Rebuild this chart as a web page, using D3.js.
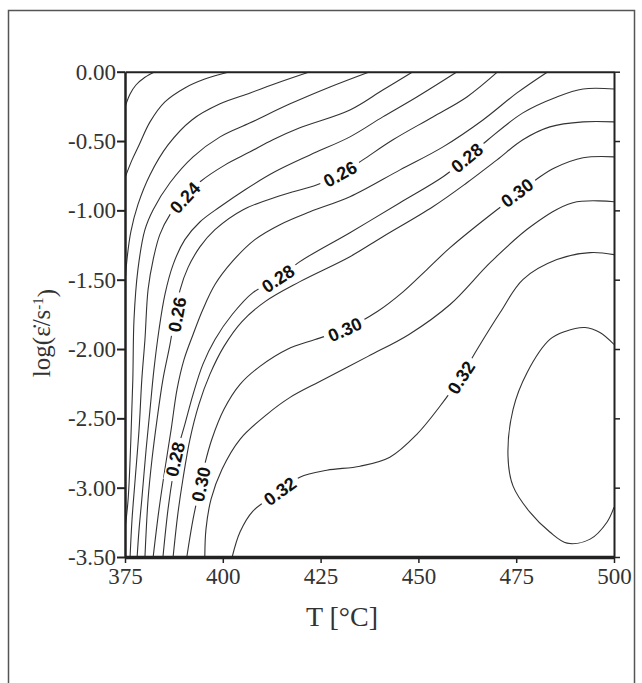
<!DOCTYPE html>
<html lang="en">
<head>
<meta charset="UTF-8">
<title>Efficiency map</title>
<script src="https://d3js.org/d3.v7.min.js"></script>
<style>
  body { margin: 0; background: #fff; }
  .axis path, .axis line { fill: none; stroke: #222; }
  .axis text { font-family: "Liberation Serif", "DejaVu Serif", serif !important; font-size: 23px !important; fill: #333; }
  .contour { fill: none; stroke: #333; stroke-width: 1.1; }
  .clabel { font-family: "Liberation Sans Narrow", "Liberation Sans", Arial, sans-serif; font-size: 18px; font-weight: bold; fill: #111; }
  .title { font-family: "Liberation Serif", "DejaVu Serif", serif; fill: #333; }
</style>
</head>
<body>
<svg id="chart" width="642" height="683"></svg>
<script>
// axis ticks
const xTicks = [375, 400, 425, 450, 475, 500];
const yTicks = [0, -0.5, -1, -1.5, -2, -2.5, -3, -3.5];

// contour lines: [T in degC, log strain rate]
const c20 = [[382.7,0],[380.1,-0.04],[377.8,-0.096],[376.3,-0.16],[375,-0.254]];
const c21 = [[401.8,0],[395.4,-0.053],[390.3,-0.117],[385.2,-0.218],[381.4,-0.362],[378.6,-0.528],[376.8,-0.636],[375,-0.765]];
const c22 = [[422.3,0],[414.6,-0.074],[407.0,-0.153],[399.3,-0.232],[392.1,-0.348],[386.0,-0.528],[381.4,-0.743],[378.3,-0.959],[376.5,-1.154],[375.5,-1.355],[375,-1.535]];
const c23 = [[437.6,0],[427.4,-0.11],[417.2,-0.232],[407.0,-0.369],[399.3,-0.47],[392.4,-0.614],[386.5,-0.801],[382.2,-0.995],[380.1,-1.139],[378.3,-1.427],[377.3,-1.787],[377.0,-2.219],[376.5,-2.651],[375.8,-3.083],[375,-3.3]];
const c24 = [[448.6,0],[440.9,-0.132],[432.5,-0.276],[419.7,-0.405],[412.8,-0.491],[407.0,-0.578],[400.6,-0.672],[394.2,-0.794],[390.3,-0.902],[386.5,-1.031],[383.9,-1.175],[382.2,-1.355],[380.9,-1.571],[380.1,-1.931],[379.3,-2.219],[378.6,-2.579],[377.6,-2.939],[376.8,-3.227],[376.3,-3.5]];
const c25 = [[459.9,0],[449.6,-0.182],[440.9,-0.326],[432.5,-0.47],[422.3,-0.6],[413.3,-0.722],[405.7,-0.851],[399.3,-0.974],[394.2,-1.082],[390.3,-1.211],[387.3,-1.391],[385.2,-1.607],[383.7,-1.859],[382.4,-2.147],[381.4,-2.435],[380.4,-2.723],[379.3,-3.083],[378.6,-3.299],[378.1,-3.5]];
const c26 = [[470.3,0],[462.4,-0.182],[453.7,-0.326],[443.5,-0.491],[435.8,-0.636],[430.0,-0.743],[424.1,-0.815],[414.6,-0.895],[405.2,-0.995],[398.0,-1.139],[394.2,-1.262],[391.1,-1.413],[389.1,-1.571],[387.8,-1.751],[386.5,-1.967],[384.7,-2.219],[383.2,-2.507],[381.9,-2.795],[380.9,-3.083],[380.1,-3.5]];
const c27 = [[483.1,0],[475.2,-0.153],[466.5,-0.348],[456.3,-0.542],[445.3,-0.708],[432.5,-0.902],[422.3,-1.01],[414.6,-1.103],[408.2,-1.211],[402.4,-1.37],[398.0,-1.535],[394.9,-1.715],[392.4,-1.895],[390.1,-2.075],[388.3,-2.291],[386.8,-2.579],[385.2,-2.867],[383.7,-3.155],[382.2,-3.5]];
const c28 = [[500,-0.125],[492.1,-0.125],[485.4,-0.182],[476.7,-0.297],[467.8,-0.491],[462.4,-0.621],[456.3,-0.758],[445.3,-0.945],[432.5,-1.161],[419.7,-1.37],[413.9,-1.499],[407.7,-1.593],[402.4,-1.751],[398.0,-1.931],[394.9,-2.111],[392.4,-2.327],[390.3,-2.543],[388.5,-2.723],[387.3,-2.903],[386.0,-3.155],[384.7,-3.5]];
const c29 = [[500,-0.362],[492.1,-0.362],[483.6,-0.398],[476.7,-0.491],[470.1,-0.636],[462.4,-0.801],[453.7,-0.974],[440.9,-1.19],[432.5,-1.334],[419.7,-1.514],[410.8,-1.658],[404.9,-1.802],[400.3,-1.981],[396.7,-2.183],[393.9,-2.399],[391.6,-2.651],[389.8,-2.939],[388.5,-3.191],[387.3,-3.5]];
const c30 = [[500,-0.614],[492.1,-0.621],[484.9,-0.693],[481.1,-0.758],[475.2,-0.888],[469.1,-1.017],[458.1,-1.269],[451.7,-1.44],[446.0,-1.59],[439.5,-1.73],[431.2,-1.859],[423.6,-1.931],[416.4,-2.003],[409.5,-2.125],[404.4,-2.255],[400.3,-2.435],[397.2,-2.651],[395.4,-2.831],[394.2,-2.989],[392.4,-3.227],[390.8,-3.5]];
const c31 = [[500,-0.938],[489.5,-0.945],[479.0,-1.111],[468.6,-1.37],[458.1,-1.679],[447.6,-1.895],[437.1,-2.053],[424.8,-2.234],[417.2,-2.349],[411.3,-2.471],[404.4,-2.651],[399.8,-2.867],[397.0,-3.083],[395.7,-3.299],[395.4,-3.5]];
const c32 = [[500,-1.319],[493.9,-1.305],[485.4,-1.355],[476.7,-1.499],[470.9,-1.737],[465.0,-2.003],[460.6,-2.212],[455.5,-2.413],[449.6,-2.615],[442.7,-2.78],[435.1,-2.845],[426.6,-2.874],[419.7,-2.924],[414.1,-3.039],[407.7,-3.169],[404.4,-3.32],[402.4,-3.5]];
const c33 = [[500,-1.967],[496.4,-1.881],[492.6,-1.845],[487.5,-1.873],[483.6,-1.931],[477.8,-2.169],[474.2,-2.435],[472.9,-2.773],[474.2,-2.989],[478.5,-3.177],[483.6,-3.32],[488.0,-3.4],[493.9,-3.371],[498.2,-3.249],[500,-3.141]];

const levels = [0.20, 0.21, 0.22, 0.23, 0.24, 0.25, 0.26, 0.27, 0.28, 0.29, 0.30, 0.31, 0.32, 0.33];
const lines = [c20, c21, c22, c23, c24, c25, c26, c27, c28, c29, c30, c31, c32, c33];

// inline contour labels
const labelLevel = [0.24, 0.26, 0.26, 0.28, 0.28, 0.28, 0.30, 0.30, 0.30, 0.32, 0.32];
const labelT     = [390.3, 430.0, 388.3, 462.4, 414.1, 387.8, 475.2, 431.2, 394.4, 460.9, 414.6];
const labelRate  = [-0.909, -0.737, -1.751, -0.621, -1.492, -2.795, -0.873, -1.859, -2.975, -2.205, -3.025];

const serif = '"Liberation Serif", "DejaVu Serif", serif';

const svg = d3.select("#chart");

const x = d3.scaleLinear().domain([375, 500]).range([125, 614]);
const y = d3.scaleLinear().domain([0, -3.5]).range([71.7, 557]);

// outer frame of the figure
svg.append("rect")
  .attr("x", 8.5).attr("y", 10.5)
  .attr("width", 626).attr("height", 700)
  .attr("fill", "none").attr("stroke", "#555").attr("stroke-width", 1.5);

svg.append("clipPath").attr("id", "plot-clip")
  .append("rect")
  .attr("x", x(375)).attr("y", y(0))
  .attr("width", x(500) - x(375)).attr("height", y(-3.5) - y(0));

const line = d3.line()
  .x(d => x(d[0]))
  .y(d => y(d[1]))
  .curve(d3.curveCatmullRom.alpha(0.5));

svg.append("g")
  .attr("clip-path", "url(#plot-clip)")
  .selectAll("path")
  .data(lines)
  .enter().append("path")
  .attr("class", "contour")
  .attr("d", line);

// labels: angle follows the local direction of the line
function labelAngle(level, t, r) {
  const pts = lines[levels.findIndex(l => Math.abs(l - level) < 1e-6)];
  const px = x(t), py = y(r);
  let best = 0, bestD = Infinity;
  pts.forEach((p, i) => {
    const d = (x(p[0]) - px) ** 2 + (y(p[1]) - py) ** 2;
    if (d < bestD) { bestD = d; best = i; }
  });
  const a = pts[Math.max(0, best - 1)], b = pts[Math.min(pts.length - 1, best + 1)];
  let dx = x(b[0]) - x(a[0]), dy = y(b[1]) - y(a[1]);
  if (dx < 0) { dx = -dx; dy = -dy; }
  return Math.atan2(dy, dx) * 180 / Math.PI;
}

const labelG = svg.append("g");
labelLevel.forEach((lv, i) => {
  const g = labelG.append("g")
    .attr("transform", "translate(" + x(labelT[i]) + "," + y(labelRate[i]) + ") rotate(" + labelAngle(lv, labelT[i], labelRate[i]) + ")");
  const bg = g.append("rect").attr("fill", "#fff");
  const txt = g.append("text")
    .attr("class", "clabel")
    .attr("text-anchor", "middle")
    .attr("dy", "0.36em")
    .text(lv.toFixed(2));
  const w = txt.node().getComputedTextLength() + 9;
  bg.attr("x", -w / 2).attr("y", -7).attr("width", w).attr("height", 14);
});

function styleTicks(g) {
  g.attr("font-family", serif).attr("font-size", 23);
  g.selectAll(".tick text").attr("fill", "#333");
}

// axes
const axLeft = svg.append("g")
  .attr("class", "axis")
  .attr("transform", "translate(" + x(375) + ",0)")
  .call(d3.axisLeft(y).tickValues(yTicks).tickFormat(d => d.toFixed(2)).tickSize(8).tickPadding(1).tickSizeOuter(0));
axLeft.call(styleTicks);
axLeft.select(".domain").attr("stroke-width", 2.5);
axLeft.selectAll(".tick line").attr("stroke-width", 2);

const axRight = svg.append("g")
  .attr("class", "axis")
  .attr("transform", "translate(" + x(500) + ",0)")
  .call(d3.axisRight(y).tickValues(yTicks).tickFormat("").tickSize(6).tickSizeOuter(0));
axRight.select(".domain").attr("stroke-width", 2);
axRight.selectAll(".tick line").attr("stroke-width", 1.5);

const axTop = svg.append("g")
  .attr("class", "axis")
  .attr("transform", "translate(0," + y(0) + ")")
  .call(d3.axisTop(x).tickValues([]).tickSizeOuter(0));
axTop.select(".domain").attr("stroke-width", 2);

const axBottom = svg.append("g")
  .attr("class", "axis")
  .attr("transform", "translate(0," + y(-3.5) + ")")
  .call(d3.axisBottom(x).tickValues(xTicks).tickSize(6).tickPadding(5).tickSizeOuter(0));
axBottom.call(styleTicks);
axBottom.select(".domain").attr("stroke-width", 3.5).attr("stroke", "#555");
axBottom.selectAll(".tick line").attr("stroke-width", 1.5);

// axis titles
svg.append("text")
  .attr("class", "title")
  .attr("x", 342).attr("y", 626)
  .attr("text-anchor", "middle")
  .style("font-size", "28px")
  .text("T [°C]");

const yt = svg.append("text")
  .attr("class", "title")
  .attr("transform", "translate(50,333) rotate(-90)")
  .attr("text-anchor", "middle")
  .style("font-size", "25px");
yt.append("tspan").text("log(\u03B5\u0307/s");
yt.append("tspan").attr("dy", "-0.45em").style("font-size", "15px").text("-1");
yt.append("tspan").attr("dy", "0.45em").text(")");
</script>
</body>
</html>
